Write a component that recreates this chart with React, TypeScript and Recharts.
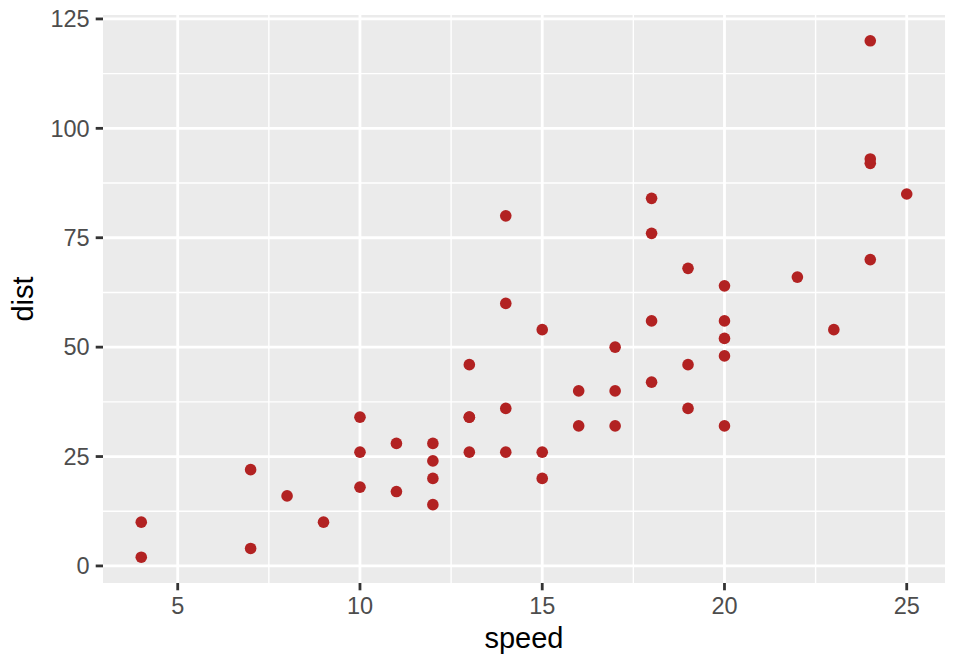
import { ScatterChart, Scatter, XAxis, YAxis, CartesianGrid, Label } from 'recharts';

const speed = [4, 4, 7, 7, 8, 9, 10, 10, 10, 11, 11, 12, 12, 12, 12, 13, 13, 13, 13, 14, 14, 14, 14, 15, 15, 15, 16, 16, 17, 17, 17, 18, 18, 18, 18, 19, 19, 19, 20, 20, 20, 20, 20, 22, 23, 24, 24, 24, 24, 25];
const dist = [2, 10, 4, 22, 16, 10, 18, 26, 34, 17, 28, 14, 20, 24, 28, 26, 34, 34, 46, 26, 36, 60, 80, 20, 26, 54, 32, 40, 32, 40, 50, 42, 56, 76, 84, 36, 46, 68, 32, 48, 52, 56, 64, 66, 54, 70, 92, 93, 120, 85];

const xTicks = [5, 10, 15, 20, 25];
const yTicks = [0, 25, 50, 75, 100, 125];
const xMinor = [7.5, 12.5, 17.5, 22.5];
const yMinor = [12.5, 37.5, 62.5, 87.5, 112.5];

const cars = speed.map((s, i) => ({ speed: s, dist: dist[i] }));

const FONT = '"Liberation Sans", Arial, sans-serif';

const Dot = (props: any) => {
  const { cx, cy } = props;
  return <circle cx={cx} cy={cy} r={5.8} fill="#B22222" />;
};

const YTitle = ({ viewBox }: any) => {
  const { x, y, height } = viewBox;
  return (
    <text
      transform={`translate(${x + 33}, ${y + height / 2}) rotate(-90)`}
      textAnchor="middle"
      fontFamily={FONT}
      fontSize={29}
      fill="#000000"
    >
      dist
    </text>
  );
};

export default function App() {
  return (
    <div style={{ position: 'absolute', left: 0, top: 0, background: '#fff' }}>
      <ScatterChart width={960} height={672} margin={{ top: 15, right: 15, bottom: 0, left: 0 }}>
        <CartesianGrid
          fill="#EBEBEB"
          stroke="#FFFFFF"
          strokeWidth={1.4}
          horizontalValues={yMinor}
          verticalValues={xMinor}
        />
        <CartesianGrid
          stroke="#FFFFFF"
          strokeWidth={2.8}
          horizontalValues={yTicks}
          verticalValues={xTicks}
        />
        <XAxis
          type="number"
          dataKey="speed"
          domain={[2.95, 26.05]}
          ticks={xTicks}
          height={89}
          axisLine={false}
          tickSize={7.3}
          tickMargin={7}
          tickLine={{ stroke: '#333333', strokeWidth: 2.8 }}
          tick={{ fill: '#4D4D4D', fontSize: 23.5, fontFamily: FONT }}
        >
          <Label
            value="speed"
            position="insideBottom"
            offset={24}
            style={{ fontSize: 29, fontFamily: FONT, fill: '#000000' }}
          />
        </XAxis>
        <YAxis
          type="number"
          dataKey="dist"
          domain={[-3.9, 125.9]}
          ticks={yTicks}
          width={103}
          axisLine={false}
          tickSize={7.3}
          tickMargin={6}
          tickLine={{ stroke: '#333333', strokeWidth: 2.8 }}
          tick={{ fill: '#4D4D4D', fontSize: 23.5, fontFamily: FONT }}
        >
          <Label content={<YTitle />} />
        </YAxis>
        <Scatter data={cars} shape={<Dot />} isAnimationActive={false} />
      </ScatterChart>
    </div>
  );
}
